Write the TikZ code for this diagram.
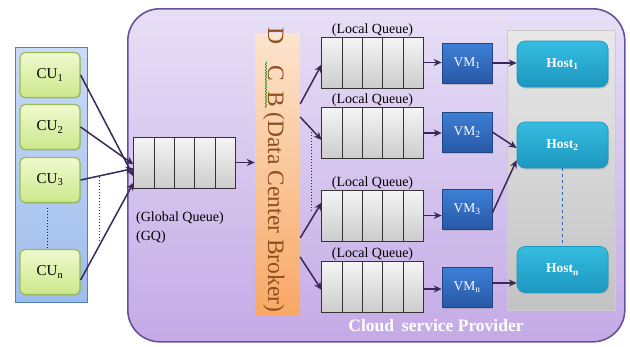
\documentclass[tikz,border=0pt]{standalone}
\usepackage{fontspec}
\setmainfont{Liberation Serif}
\usetikzlibrary{arrows.meta,calc,decorations.pathmorphing,shadows}

\definecolor{arrowc}{HTML}{3A2858}
\definecolor{provtop}{HTML}{E7DFF6}
\definecolor{provbot}{HTML}{C4AAE6}
\definecolor{provline}{HTML}{6A4F99}
\definecolor{userstop}{HTML}{C9DBF6}
\definecolor{usersbot}{HTML}{9EBDEC}
\definecolor{usersline}{HTML}{4F81BD}
\definecolor{cutop}{HTML}{F0F9CF}
\definecolor{cubot}{HTML}{CBE88A}
\definecolor{culine}{HTML}{9BBB59}
\definecolor{dcbtop}{HTML}{FCE4CE}
\definecolor{dcbbot}{HTML}{F8A865}
\definecolor{dcbtext}{HTML}{8E4E1E}
\definecolor{vmtop}{HTML}{3D80D6}
\definecolor{vmbot}{HTML}{2858A6}
\definecolor{hosttop}{HTML}{35BCE0}
\definecolor{hostbot}{HTML}{1C97C0}
\definecolor{rackfill}{HTML}{D8D8D8}
\definecolor{linkblue}{HTML}{2E6DB4}

\tikzset{
  conn/.style={draw=arrowc, line width=1.5pt, -{Stealth[length=8pt,width=7pt]}},
  cubox/.style={draw=culine, line width=1.2pt, rounded corners=5pt,
    top color=cutop, bottom color=cubot, minimum width=60pt, minimum height=45pt,
    font=\fontsize{15}{17}\selectfont, drop shadow={opacity=0.25,shadow xshift=1pt,shadow yshift=-1pt}},
  queue/.style={draw=black!80, line width=0.8pt, minimum width=101pt, minimum height=50pt, inner sep=0pt},
  cell/.style={draw=black!80, line width=0.8pt, top color=gray!8, bottom color=gray!40},
  qlabel/.style={font=\fontsize{14}{16}\selectfont, inner sep=0pt},
  vmbox/.style={draw=vmbot!80!black, line width=0.6pt, top color=vmtop, bottom color=vmbot,
    minimum width=50pt, minimum height=40pt, text=white, font=\fontsize{13.5}{15}\selectfont,
    drop shadow={opacity=0.3,shadow xshift=1pt,shadow yshift=-1.5pt}},
  hostbox/.style={draw=hostbot, line width=0.6pt, rounded corners=8pt, top color=hosttop, bottom color=hostbot,
    minimum width=91pt, minimum height=46pt, text=white, font=\fontsize{13.5}{15}\selectfont\bfseries,
    drop shadow={opacity=0.3,shadow xshift=1pt,shadow yshift=-1.5pt}},
  dotline/.style={draw=black!85, line width=1pt, dotted},
}

% five shaded cells filling a queue node
\newcommand{\queuecells}[1]{%
  \foreach \a/\b in {0/0.2,0.2/0.4,0.4/0.6,0.6/0.8,0.8/1}{%
    \path[cell] ($(#1.north west)!\a!(#1.north east)$) rectangle ($(#1.south west)!\b!(#1.south east)$);
  }%
}

\begin{document}
\begin{tikzpicture}[x=1pt,y=-1pt]
\useasboundingbox[fill=white] (0,0) rectangle (630,346);

% cloud service provider frame
\node[draw=provline, line width=1.6pt, rounded corners=32pt, top color=provtop, bottom color=provbot,
  minimum width=497pt, minimum height=333pt, anchor=north west, inner sep=0pt] (cloud) at (127,8) {};
\node[text=white, font=\fontsize{17.5}{19}\selectfont\bfseries, anchor=base] (cloudlbl) at (436,331)
  {Cloud\hspace{0.2em} service Provider};

% cloud users panel
\node[draw=usersline, line width=1.2pt, top color=userstop, bottom color=usersbot,
  minimum width=72pt, minimum height=255pt, anchor=north west, inner sep=0pt] (users) at (15,47) {};
\node[cubox] (cu1) at (50,75) {CU\textsubscript{1}};
\node[cubox] (cu2) at (50,127) {CU\textsubscript{2}};
\node[cubox] (cu3) at (50,180) {CU\textsubscript{3}};
\node[cubox] (cun) at (50,272) {CU\textsubscript{n}};
\coordinate (cud1) at ([xshift=-3pt,yshift=-5pt]cu3.south);
\draw[dotline] (cud1) -- (cun.north -| cud1);

% global queue
\node[queue] (gq) at (184.5,162.5) {};
\queuecells{gq}
\node[qlabel, anchor=west] (gqlbl) at (136,218) {(Global Queue)};
\node[qlabel, anchor=west] (gqshort) at (136,237) {(GQ)};

% user requests into the global queue
\draw[conn] (cu1.east) -- ([yshift=-14pt]gq.west);
\draw[conn] (cu2.east) -- ([yshift=-2pt]gq.west);
\draw[conn] (cu3.east) -- ([yshift=-6pt]gq.west);
\draw[conn] ([yshift=-8pt]cun.east) -- ([yshift=-20pt]gq.west);
\coordinate (uda) at (99,177);
\coordinate (udb) at (99,241);
\draw[dotline] (uda) -- (udb);

% data center broker
\node[draw=none, top color=dcbtop, bottom color=dcbbot, minimum width=45pt, minimum height=282pt,
  inner sep=0pt] (dcb) at (277.5,174) {};
\node[rotate=-90, anchor=base west, text=dcbtext, font=\fontsize{23.5}{25}\selectfont, inner sep=0pt]
  (dcblbl) at (268,27) {D\hspace{0.9em}C\hspace{0.43em}B (Data Center Broker)};
\coordinate (sq1) at ([xshift=-11.5pt,yshift=-29pt]dcb.north);
\coordinate (sq2) at ([xshift=-11.5pt,yshift=-75pt]dcb.north);
\draw[green!55!black, line width=0.6pt, decorate, decoration={snake, amplitude=0.8pt, segment length=3pt}]
  (sq1) -- (sq2);
\draw[conn] (gq.east) -- (dcb.west |- gq.east);

% local queues
\node[queue] (lq1) at (372.5,62.5) {};
\node[queue] (lq2) at (372.5,133) {};
\node[queue] (lq3) at (372.5,215.5) {};
\node[queue] (lq4) at (372.5,287) {};
\foreach \q in {lq1,lq2,lq3,lq4}{\queuecells{\q}}
\foreach \q in {lq1,lq2,lq3,lq4}{\node[qlabel, anchor=base] at ([yshift=4pt]\q.north) {(Local Queue)};}

% broker dispatching to local queues
\draw[conn] ([yshift=70pt]dcb.east) -- ([yshift=-2pt]lq1.west);
\draw[conn] ([yshift=57pt]dcb.east) -- ([yshift=-7pt]lq2.west);
\draw[conn] ([yshift=-64pt]dcb.east) -- ([yshift=13pt]lq3.west);
\draw[conn] ([yshift=-83pt]dcb.east) -- ([yshift=-3pt]lq4.west);
\coordinate (bda) at (311,132);
\coordinate (bdb) at (311,212);
\draw[dotline] (bda) -- (bdb);

% virtual machines
\node[vmbox] (vm1) at (467,63) {VM\textsubscript{1}};
\node[vmbox] (vm2) at (467,132) {VM\textsubscript{2}};
\node[vmbox] (vm3) at (467,209) {VM\textsubscript{3}};
\node[vmbox] (vmn) at (467,287) {VM\textsubscript{n}};
\draw[conn] (lq1.east) -- (vm1.west |- lq1.east);
\draw[conn] (lq2.east) -- (vm2.west |- lq2.east);
\draw[conn] (lq3.east) -- (vm3.west |- lq3.east);
\draw[conn] ([yshift=-2pt]lq4.east) -- ([yshift=-2pt]vmn.west);

% hosts rack
\node[draw=gray!40, line width=0.5pt, top color=gray!18, bottom color=rackfill!90!black,
  minimum width=108pt, minimum height=280pt, anchor=north west, inner sep=0pt] (rack) at (507,30) {};
\node[hostbox] (host1) at (562.5,64) {Host\textsubscript{1}};
\node[hostbox] (host2) at (562.5,145) {Host\textsubscript{2}};
\node[hostbox] (hostn) at (562.5,269.5) {Host\textsubscript{n}};
\draw[linkblue, line width=0.9pt, dashed] (host2.south) -- (hostn.north);

% virtual machines placed on hosts
\coordinate (vmnout) at ([yshift=4pt]vmn.east);
\draw[conn] (vm1.east) -- (host1.west |- vm1.east);
\draw[conn] (vm2.east) -- ([yshift=-3pt]host2.west);
\draw[conn] ([yshift=-4pt]vm3.east) -- ([yshift=-15pt]host2.west);
\draw[conn] (vmnout) -- (hostn.west |- vmnout);
\end{tikzpicture}
\end{document}
